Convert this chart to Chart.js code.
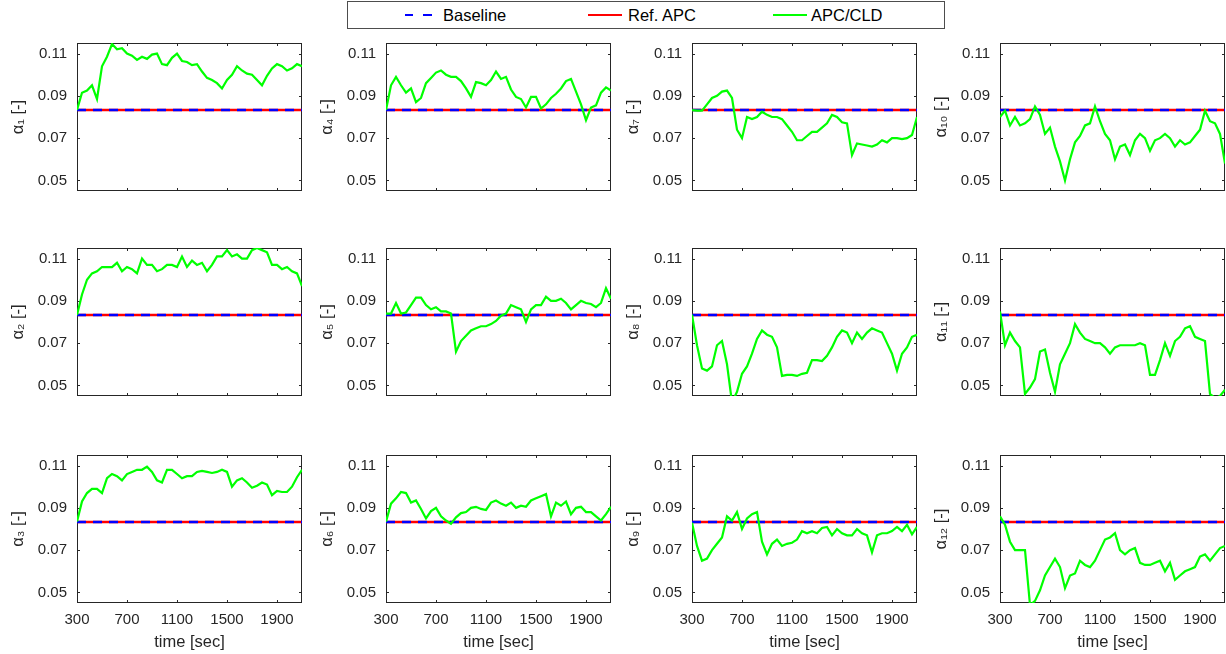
<!DOCTYPE html>
<html>
<head>
<meta charset="utf-8">
<script src="https://cdn.jsdelivr.net/npm/chart.js@4.4.1/dist/chart.umd.min.js"></script>
<style>
  body { margin: 0; background: #fff; width: 1226px; height: 654px; position: relative; overflow: hidden;
         font-family: "Liberation Sans", Arial, sans-serif; }
  canvas.cell { position: absolute; }
  #legend { position: absolute; left: 347px; top: 1px; width: 598px; height: 28px; box-sizing: border-box;
            border: 1px solid #4d4d4d; background: #fff; }
  #legend div, #legend span { position: absolute; }
  #legend span { top: 0; line-height: 26px; font-size: 16.5px; color: #000; white-space: nowrap; }
</style>
</head>
<body>
<div id="legend">
  <div style="left:57px;top:11.5px;width:8px;height:2.5px;background:#0000ff"></div>
  <div style="left:75px;top:11.5px;width:9px;height:2.5px;background:#0000ff"></div>
  <span style="left:95px">Baseline</span>
  <div style="left:240px;top:11.5px;width:34px;height:2.5px;background:#ff0000"></div>
  <span style="left:280px">Ref. APC</span>
  <div style="left:425px;top:11.5px;width:34px;height:2.5px;background:#00ff00"></div>
  <span style="left:463px">APC/CLD</span>
</div>
<script>
// time axis of the APC/CLD traces (sec)
const times = [
  300, 340, 380, 420, 460, 500, 540, 580, 620, 660,
  700, 740, 780, 820, 860, 900, 940, 980, 1020, 1060,
  1100, 1140, 1180, 1220, 1260, 1300, 1340, 1380, 1420, 1460,
  1500, 1540, 1580, 1620, 1660, 1700, 1740, 1780, 1820, 1860,
  1900, 1940, 1980, 2020, 2060, 2100
];

// baseline and reference APC are flat at the nominal share
const refTimes = [300, 2100];
const baselineAlpha = [0.0833, 0.0833];
const refApcAlpha = [0.0833, 0.0833];

// APC/CLD share per zone
const alpha1 = [
  0.0833, 0.0915, 0.0925, 0.0950, 0.0885, 0.1040, 0.1085, 0.1145, 0.1120, 0.1125,
  0.1100, 0.1090, 0.1070, 0.1085, 0.1075, 0.1095, 0.1100, 0.1050, 0.1045, 0.1080,
  0.1100, 0.1065, 0.1060, 0.1045, 0.1050, 0.1015, 0.0985, 0.0975, 0.0960, 0.0935,
  0.0975, 0.1000, 0.1040, 0.1020, 0.1005, 0.1000, 0.0975, 0.0950, 0.0995, 0.1030,
  0.1050, 0.1040, 0.1020, 0.1030, 0.1050, 0.1040
];
const alpha2 = [
  0.0833, 0.0930, 0.1000, 0.1030, 0.1040, 0.1060, 0.1060, 0.1060, 0.1080, 0.1040,
  0.1060, 0.1050, 0.1030, 0.1100, 0.1070, 0.1070, 0.1040, 0.1050, 0.1070, 0.1070,
  0.1060, 0.1110, 0.1060, 0.1090, 0.1070, 0.1080, 0.1040, 0.1070, 0.1110, 0.1110,
  0.1140, 0.1110, 0.1120, 0.1100, 0.1100, 0.1140, 0.1150, 0.1140, 0.1130, 0.1070,
  0.1070, 0.1050, 0.1060, 0.1040, 0.1030, 0.0970
];
const alpha3 = [
  0.0835, 0.0930, 0.0970, 0.0990, 0.0990, 0.0970, 0.1040, 0.1060, 0.1050, 0.1030,
  0.1060, 0.1070, 0.1080, 0.1080, 0.1095, 0.1070, 0.1030, 0.1020, 0.1080, 0.1080,
  0.1060, 0.1040, 0.1050, 0.1050, 0.1070, 0.1075, 0.1070, 0.1065, 0.1070, 0.1080,
  0.1070, 0.1000, 0.1030, 0.1040, 0.1020, 0.0995, 0.1005, 0.1020, 0.1010, 0.0960,
  0.0980, 0.0975, 0.0975, 0.1000, 0.1045, 0.1080
];
const alpha4 = [
  0.0833, 0.0950, 0.0990, 0.0950, 0.0915, 0.0935, 0.0870, 0.0890, 0.0960, 0.0985,
  0.1010, 0.1020, 0.1000, 0.0990, 0.0990, 0.0970, 0.0935, 0.0895, 0.0965, 0.0960,
  0.0950, 0.0975, 0.1015, 0.0980, 0.0990, 0.0930, 0.0895, 0.0885, 0.0845, 0.0895,
  0.0895, 0.0840, 0.0860, 0.0890, 0.0910, 0.0935, 0.0970, 0.0980, 0.0920, 0.0860,
  0.0785, 0.0845, 0.0855, 0.0915, 0.0940, 0.0925
];
const alpha5 = [
  0.0840, 0.0840, 0.0890, 0.0840, 0.0845, 0.0880, 0.0915, 0.0915, 0.0880, 0.0860,
  0.0870, 0.0850, 0.0850, 0.0840, 0.0660, 0.0710, 0.0735, 0.0760, 0.0770, 0.0780,
  0.0780, 0.0790, 0.0805, 0.0830, 0.0840, 0.0880, 0.0870, 0.0860, 0.0800, 0.0860,
  0.0880, 0.0880, 0.0920, 0.0900, 0.0900, 0.0910, 0.0890, 0.0860, 0.0880, 0.0900,
  0.0890, 0.0885, 0.0870, 0.0890, 0.0960, 0.0910
];
const alpha6 = [
  0.0835, 0.0920, 0.0945, 0.0975, 0.0970, 0.0925, 0.0935, 0.0895, 0.0850, 0.0885,
  0.0900, 0.0860, 0.0840, 0.0825, 0.0855, 0.0875, 0.0880, 0.0900, 0.0905, 0.0895,
  0.0890, 0.0925, 0.0935, 0.0920, 0.0910, 0.0925, 0.0900, 0.0910, 0.0905, 0.0935,
  0.0945, 0.0955, 0.0965, 0.0860, 0.0925, 0.0910, 0.0930, 0.0870, 0.0900, 0.0905,
  0.0880, 0.0880, 0.0860, 0.0840, 0.0870, 0.0905
];
const alpha7 = [
  0.0833, 0.0830, 0.0830, 0.0860, 0.0890, 0.0900, 0.0920, 0.0925, 0.0890, 0.0740,
  0.0700, 0.0800, 0.0790, 0.0800, 0.0825, 0.0810, 0.0800, 0.0800, 0.0790, 0.0760,
  0.0730, 0.0690, 0.0690, 0.0710, 0.0730, 0.0730, 0.0750, 0.0770, 0.0810, 0.0800,
  0.0775, 0.0770, 0.0620, 0.0675, 0.0670, 0.0665, 0.0660, 0.0670, 0.0690, 0.0680,
  0.0700, 0.0700, 0.0695, 0.0700, 0.0715, 0.0800
];
const alpha8 = [
  0.0835, 0.0690, 0.0580, 0.0570, 0.0590, 0.0690, 0.0710, 0.0600, 0.0420, 0.0470,
  0.0555, 0.0590, 0.0650, 0.0720, 0.0760, 0.0740, 0.0730, 0.0680, 0.0545, 0.0550,
  0.0550, 0.0545, 0.0555, 0.0560, 0.0620, 0.0620, 0.0615, 0.0640, 0.0680, 0.0730,
  0.0760, 0.0750, 0.0700, 0.0750, 0.0720, 0.0750, 0.0770, 0.0760, 0.0750, 0.0700,
  0.0650, 0.0570, 0.0650, 0.0680, 0.0730, 0.0740
];
const alpha9 = [
  0.0830, 0.0720, 0.0650, 0.0660, 0.0700, 0.0730, 0.0760, 0.0860, 0.0840, 0.0880,
  0.0800, 0.0850, 0.0870, 0.0880, 0.0740, 0.0680, 0.0730, 0.0750, 0.0720, 0.0730,
  0.0735, 0.0750, 0.0790, 0.0780, 0.0790, 0.0780, 0.0805, 0.0810, 0.0770, 0.0800,
  0.0780, 0.0770, 0.0770, 0.0800, 0.0780, 0.0770, 0.0690, 0.0770, 0.0780, 0.0780,
  0.0790, 0.0810, 0.0790, 0.0820, 0.0775, 0.0810
];
const alpha10 = [
  0.0800, 0.0830, 0.0760, 0.0800, 0.0760, 0.0770, 0.0790, 0.0850, 0.0810, 0.0720,
  0.0750, 0.0660, 0.0590, 0.0500, 0.0600, 0.0680, 0.0710, 0.0760, 0.0770, 0.0850,
  0.0780, 0.0720, 0.0690, 0.0600, 0.0660, 0.0670, 0.0620, 0.0690, 0.0720, 0.0700,
  0.0640, 0.0690, 0.0700, 0.0720, 0.0700, 0.0660, 0.0690, 0.0670, 0.0680, 0.0710,
  0.0740, 0.0830, 0.0780, 0.0770, 0.0720, 0.0580
];
const alpha11 = [
  0.0850, 0.0690, 0.0750, 0.0710, 0.0680, 0.0460, 0.0490, 0.0530, 0.0660, 0.0670,
  0.0560, 0.0470, 0.0600, 0.0650, 0.0700, 0.0790, 0.0750, 0.0720, 0.0710, 0.0700,
  0.0700, 0.0680, 0.0650, 0.0680, 0.0690, 0.0690, 0.0690, 0.0690, 0.0700, 0.0690,
  0.0550, 0.0550, 0.0620, 0.0700, 0.0640, 0.0710, 0.0730, 0.0770, 0.0780, 0.0730,
  0.0720, 0.0710, 0.0460, 0.0440, 0.0450, 0.0480
];
const alpha12 = [
  0.0860, 0.0820, 0.0740, 0.0700, 0.0700, 0.0700, 0.0440, 0.0460, 0.0510, 0.0580,
  0.0620, 0.0660, 0.0620, 0.0520, 0.0580, 0.0590, 0.0650, 0.0630, 0.0620, 0.0650,
  0.0700, 0.0750, 0.0760, 0.0780, 0.0700, 0.0680, 0.0700, 0.0710, 0.0640, 0.0630,
  0.0630, 0.0640, 0.0650, 0.0600, 0.0640, 0.0560, 0.0580, 0.0600, 0.0610, 0.0620,
  0.0670, 0.0680, 0.0650, 0.0680, 0.0710, 0.0720
];

const xTicks = [300, 700, 1100, 1500, 1900];
const yTicks = [0.05, 0.07, 0.09, 0.11];

const greenSeries = [alpha1, alpha2, alpha3, alpha4, alpha5, alpha6,
                     alpha7, alpha8, alpha9, alpha10, alpha11, alpha12];

// layout of the 4x3 grid of axes (page pixels)
const colLeft = [77, 386, 692, 1000];
const rowTop = [43, 248, 455];
const plotW = 225, plotH = 148;
const padL = 77, padT = 8, padR = 2;

Chart.defaults.font.family = '"Liberation Sans", Arial, sans-serif';
Chart.defaults.color = '#262626';

const subDigits = '₀₁₂₃₄₅₆₇₈₉';
function subscript(n) {
  return String(n).split('').map(d => subDigits[+d]).join('');
}

function pairs(xs, ys) {
  return xs.map((x, i) => ({ x: x, y: ys[i] }));
}

// axes box with inward tick marks, like the original figure
const boxPlugin = {
  id: 'box',
  beforeDatasetsDraw(chart) {
    const { ctx, chartArea: a, scales } = chart;
    ctx.save();
    ctx.strokeStyle = '#262626';
    ctx.lineWidth = 1;
    ctx.strokeRect(a.left + 0.5, a.top + 0.5, a.right - a.left - 1, a.bottom - a.top - 1);
    ctx.beginPath();
    xTicks.forEach(v => {
      const px = Math.round(scales.x.getPixelForValue(v)) + 0.5;
      ctx.moveTo(px, a.bottom); ctx.lineTo(px, a.bottom - 3);
      ctx.moveTo(px, a.top); ctx.lineTo(px, a.top + 3);
    });
    yTicks.forEach(v => {
      const py = Math.round(scales.y.getPixelForValue(v)) + 0.5;
      ctx.moveTo(a.left, py); ctx.lineTo(a.left + 3, py);
      ctx.moveTo(a.right, py); ctx.lineTo(a.right - 3, py);
    });
    ctx.stroke();
    ctx.restore();
  }
};

for (let k = 0; k < 12; k++) {
  const c = Math.floor(k / 3), r = k % 3;
  const bottomRow = r === 2;
  const xh = bottomRow ? 52 : 4;

  const cv = document.createElement('canvas');
  cv.className = 'cell';
  cv.width = padL + plotW + padR;
  cv.height = padT + plotH + xh;
  cv.style.left = (colLeft[c] - padL) + 'px';
  cv.style.top = (rowTop[r] - padT) + 'px';
  document.body.appendChild(cv);

  new Chart(cv, {
    type: 'line',
    data: {
      datasets: [
        { label: 'APC/CLD', data: pairs(times, greenSeries[k]), borderColor: '#00ff00',
          borderWidth: 2.2, pointRadius: 0, tension: 0 },
        { label: 'Baseline', data: pairs(refTimes, baselineAlpha), borderColor: '#0000ff',
          borderWidth: 2.5, borderDash: [9, 7], pointRadius: 0 },
        { label: 'Ref. APC', data: pairs(refTimes, refApcAlpha), borderColor: '#ff0000',
          borderWidth: 2.5, pointRadius: 0 }
      ]
    },
    options: {
      responsive: false,
      animation: false,
      layout: { padding: { top: padT, right: padR, left: 0, bottom: 0 } },
      plugins: { legend: { display: false }, tooltip: { enabled: false } },
      scales: {
        x: {
          type: 'linear',
          min: 300,
          max: 2100,
          afterBuildTicks: s => { s.ticks = xTicks.map(v => ({ value: v })); },
          afterFit: s => { s.height = xh; s.paddingLeft = 0; s.paddingRight = 0; },
          grid: { display: false, drawTicks: false },
          border: { display: false },
          ticks: { display: bottomRow, font: { size: 15 }, padding: 8, maxRotation: 0, autoSkip: false,
                   callback: v => String(v) },
          title: { display: bottomRow, text: 'time [sec]', font: { size: 16.5 }, padding: { top: 0, bottom: 3 } }
        },
        y: {
          min: 0.045,
          max: 0.115,
          afterBuildTicks: s => { s.ticks = yTicks.map(v => ({ value: v })); },
          // fixed axis width; no extra room for the end labels so the box keeps its size
          afterFit: s => { s.width = padL; s.paddingTop = 0; s.paddingBottom = 0; },
          grid: { display: false, drawTicks: false },
          border: { display: false },
          ticks: { font: { size: 15 }, padding: 10, callback: v => v.toFixed(2) },
          title: { display: true, text: 'α' + subscript(k + 1) + ' [-]', font: { size: 16.5 },
                   padding: { top: 9, bottom: 0 } }
        }
      }
    },
    plugins: [boxPlugin]
  });
}
</script>
</body>
</html>
